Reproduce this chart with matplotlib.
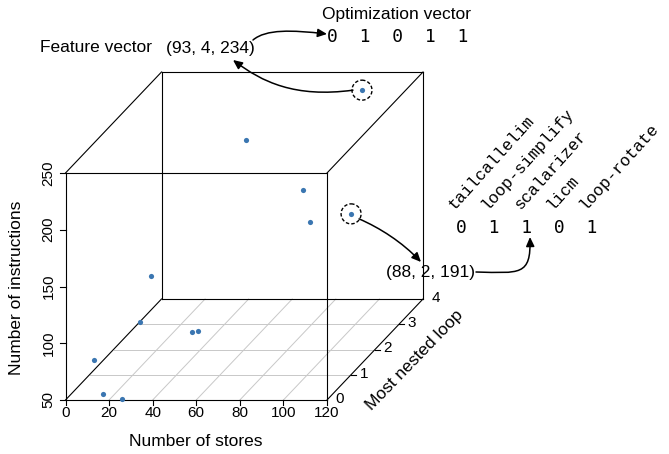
import matplotlib
matplotlib.use("Agg")
import matplotlib.pyplot as plt
from matplotlib.patches import Circle, FancyArrowPatch
from matplotlib.path import Path

plt.rcParams['font.family'] = ['Liberation Sans', 'DejaVu Sans']

# data: (number of stores, most nested loop, number of instructions)
stores = [92, 50, 76, 101, 87, 28, 1, 36, 39, 13, 17, 26]
loops = [4, 3, 3, 1, 4, 1, 3, 2, 2, 0, 0, 0]
instrs = [234, 212, 168, 185, 125, 137, 52, 65, 66, 85, 55, 51]

x_ticks = [0, 20, 40, 60, 80, 100, 120]
y_ticks = [0, 1, 2, 3, 4]
z_ticks = [50, 100, 150, 200, 250]
x_lim = (0, 120)
y_lim = (0, 4)
z_lim = (50, 250)

passes = ["tailcallelim", "loop-simplify", "scalarizer", "licm", "loop-rotate"]
opt_top = [0, 1, 0, 1, 1]
opt_bottom = [0, 1, 1, 0, 1]

# oblique (cabinet) projection onto figure pixels
X0, Z0 = 65.5, 400.0
XS = (327.0 - 65.5) / 120.0
ZS = 227.0 / 200.0
DX, DY = 24.0, 25.25


def proj(x, y, z):
    return X0 + (x - x_lim[0]) * XS + y * DX, Z0 - (z - z_lim[0]) * ZS - y * DY


fig = plt.figure(figsize=(6.69, 4.54), dpi=100)
ax = fig.add_axes([0, 0, 1, 1])
ax.set_xlim(0, 669)
ax.set_ylim(454, 0)
ax.axis('off')

# floor grid
for xv in x_ticks[1:-1]:
    p0 = proj(xv, y_lim[0], z_lim[0]); p1 = proj(xv, y_lim[1], z_lim[0])
    ax.plot([p0[0], p1[0]], [p0[1], p1[1]], color='#c8c8c8', lw=0.7)
for yv in y_ticks[1:-1]:
    p0 = proj(x_lim[0], yv, z_lim[0]); p1 = proj(x_lim[1], yv, z_lim[0])
    ax.plot([p0[0], p1[0]], [p0[1], p1[1]], color='#c8c8c8', lw=0.7)

# box
corners = {}
for i, xv in enumerate(x_lim):
    for j, yv in enumerate(y_lim):
        for k, zv in enumerate(z_lim):
            corners[(i, j, k)] = proj(xv, yv, zv)
for a in corners:
    for b in corners:
        if a < b and sum(u != v for u, v in zip(a, b)) == 1:
            ax.plot([corners[a][0], corners[b][0]], [corners[a][1], corners[b][1]],
                    color='black', lw=0.8)

# ticks and labels
for xv in x_ticks:
    px, py = proj(xv, y_lim[0], z_lim[0])
    ax.plot([px, px], [py, py + 5], color='black', lw=0.8)
    ax.text(px, py + 13, str(xv), ha='center', va='center', fontsize=11)
for zv in z_ticks:
    px, py = proj(x_lim[0], y_lim[0], zv)
    ax.plot([px - 6, px], [py, py], color='black', lw=0.8)
    ax.text(px - 17, py, str(zv), ha='center', va='center', fontsize=11, rotation=90)
for yv in y_ticks:
    px, py = proj(x_lim[1], yv, z_lim[0])
    if 0 < yv < 4:
        ax.plot([px, px + 5], [py, py], color='black', lw=0.8)
    ax.text(px + 13, py - 1, str(yv), ha='center', va='center', fontsize=11)

ax.text(196, 441, "Number of stores", ha='center', va='center', fontsize=12.5)
ax.text(17, 288, "Number of instructions", ha='center', va='center', fontsize=12.5, rotation=90)
ax.text(415, 360, "Most nested loop", ha='center', va='center', fontsize=12.5, rotation=46)

# points
sx, sy = [], []
for xv, yv, zv in zip(stores, loops, instrs):
    p = proj(xv, yv, zv)
    sx.append(p[0]); sy.append(p[1])
ax.scatter(sx, sy, s=14, color='#3b76b1', zorder=5, linewidths=0)

# highlighted points
c1 = proj(stores[0], loops[0], instrs[0])
c2 = proj(stores[4], loops[4], instrs[4])
for c in (c1, c2):
    ax.add_patch(Circle(c, 10, fill=False, ls=(0, (2.5, 1.5)), lw=1, color='black', zorder=6))

# annotation texts
ax.text(397, 14, "Optimization vector", ha='center', va='center', fontsize=12.5)
ax.text(40, 48, "Feature vector", ha='left', va='center', fontsize=12.5)
ax.text(166, 48, "(93, 4, 234)", ha='left', va='center', fontsize=12.5)
ax.text(475, 272, "(88, 2, 191)", ha='right', va='center', fontsize=12.5)

ax.text(327, 37, "  ".join(str(v) for v in opt_top), ha='left', va='center',
        fontsize=13, family='DejaVu Sans Mono')
ax.text(456, 228, "  ".join(str(v) for v in opt_bottom), ha='left', va='center',
        fontsize=13, family='DejaVu Sans Mono')
for i, name in enumerate(passes):
    ax.text(455 + i * 32.6, 210, name, ha='left', va='baseline', rotation=48,
            rotation_mode='anchor', fontsize=12, family='Liberation Mono')


def curve(pts):
    codes = [Path.MOVETO, Path.CURVE4, Path.CURVE4, Path.CURVE4]
    arr = FancyArrowPatch(path=Path(pts, codes), arrowstyle='-|>,head_length=0.55,head_width=0.25',
                          mutation_scale=10, color='black', lw=1.1, zorder=7)
    ax.add_patch(arr)


curve([(c1[0] - 9, c1[1]), (295, 98), (262, 82), (233, 60)])
curve([(253, 40), (266, 29), (292, 30), (327, 34)])
curve([(c2[0] + 8, c2[1] + 5), (380, 228), (402, 242), (421, 262)])
curve([(476, 272), (520, 273), (531, 276), (530, 237)])

fig.savefig("out.png", dpi=100)
